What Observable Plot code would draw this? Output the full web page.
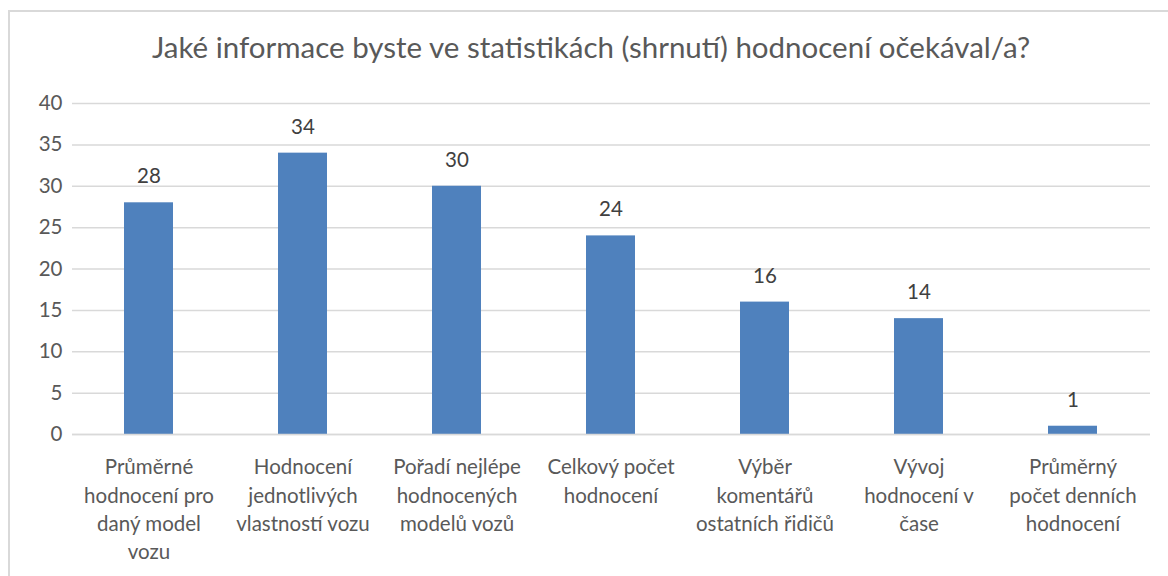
<!DOCTYPE html>
<html>
<head>
<meta charset="utf-8">
<script src="https://cdn.jsdelivr.net/npm/d3@7"></script>
<script src="https://cdn.jsdelivr.net/npm/@observablehq/plot@0.6"></script>
<style>
  html, body { margin: 0; padding: 0; background: #fff; overflow: hidden; width: 1168px; height: 576px; }
  #frame { position: absolute; left: 8px; top: 10px; width: 1200px; height: 620px; border: 2px solid #d9d9d9; box-sizing: border-box; }
  #title { position: absolute; left: 7px; top: 27px; width: 1168px; text-align: center; font-family: Lato, "Open Sans", sans-serif; font-size: 29.5px; color: #595959; line-height: 40px; }
  #chart { position: absolute; left: 0; top: 80px; }
</style>
</head>
<body>
<div id="frame"></div>
<div id="title">Jaké informace byste ve statistikách (shrnutí) hodnocení očekával/a?</div>
<div id="chart"></div>
<script>
const categories = [
  "Průměrné hodnocení pro daný model vozu",
  "Hodnocení jednotlivých vlastností vozu",
  "Pořadí nejlépe hodnocených modelů vozů",
  "Celkový počet hodnocení",
  "Výběr komentářů ostatních řidičů",
  "Vývoj hodnocení v čase",
  "Průměrný počet denních hodnocení"
];
const categoryLabels = [
  "Průměrné\nhodnocení pro\ndaný model\nvozu",
  "Hodnocení\njednotlivých\nvlastností vozu",
  "Pořadí nejlépe\nhodnocených\nmodelů vozů",
  "Celkový počet\nhodnocení",
  "Výběr\nkomentářů\nostatních řidičů",
  "Vývoj\nhodnocení v\nčase",
  "Průměrný\npočet denních\nhodnocení"
];
const values = [28, 34, 30, 24, 16, 14, 1];
const yTicks = [0, 5, 10, 15, 20, 25, 30, 35, 40];

const data = categories.map((c, i) => ({category: c, value: values[i]}));
const labelOf = new Map(categories.map((c, i) => [c, categoryLabels[i]]));

const chart = Plot.plot({
  width: 1168,
  height: 496,
  marginTop: 23,
  marginBottom: 142,
  marginLeft: 72,
  marginRight: 18,
  style: {fontFamily: "Lato, 'Open Sans', sans-serif", fontSize: "20.5px", color: "#595959", background: "transparent", overflow: "visible"},
  x: {domain: categories, paddingInner: 0.68, paddingOuter: 0.34, label: null},
  y: {domain: [0, 40], label: null},
  marks: [
    Plot.gridY(yTicks, {stroke: "#d9d9d9", strokeOpacity: 1, strokeWidth: 1.5}),
    Plot.barY(data, {x: "category", y: "value", fill: "#4f81bd"}),
    Plot.ruleY([0], {stroke: "#d9d9d9", strokeWidth: 1.5}),
    Plot.text(data, {x: "category", y: "value", text: d => String(d.value), dy: -26, fill: "#404040", fontSize: 20.5}),
    Plot.axisY({ticks: yTicks, tickSize: 0, tickPadding: 10, label: null, fontSize: 20.5, fill: "#595959"}),
    Plot.axisX({tickSize: 0, tickPadding: 20, label: null, fontSize: 20.5, lineHeight: 1.37, fill: "#595959", tickFormat: d => labelOf.get(d)})
  ]
});
document.getElementById("chart").appendChild(chart);
</script>
</body>
</html>
